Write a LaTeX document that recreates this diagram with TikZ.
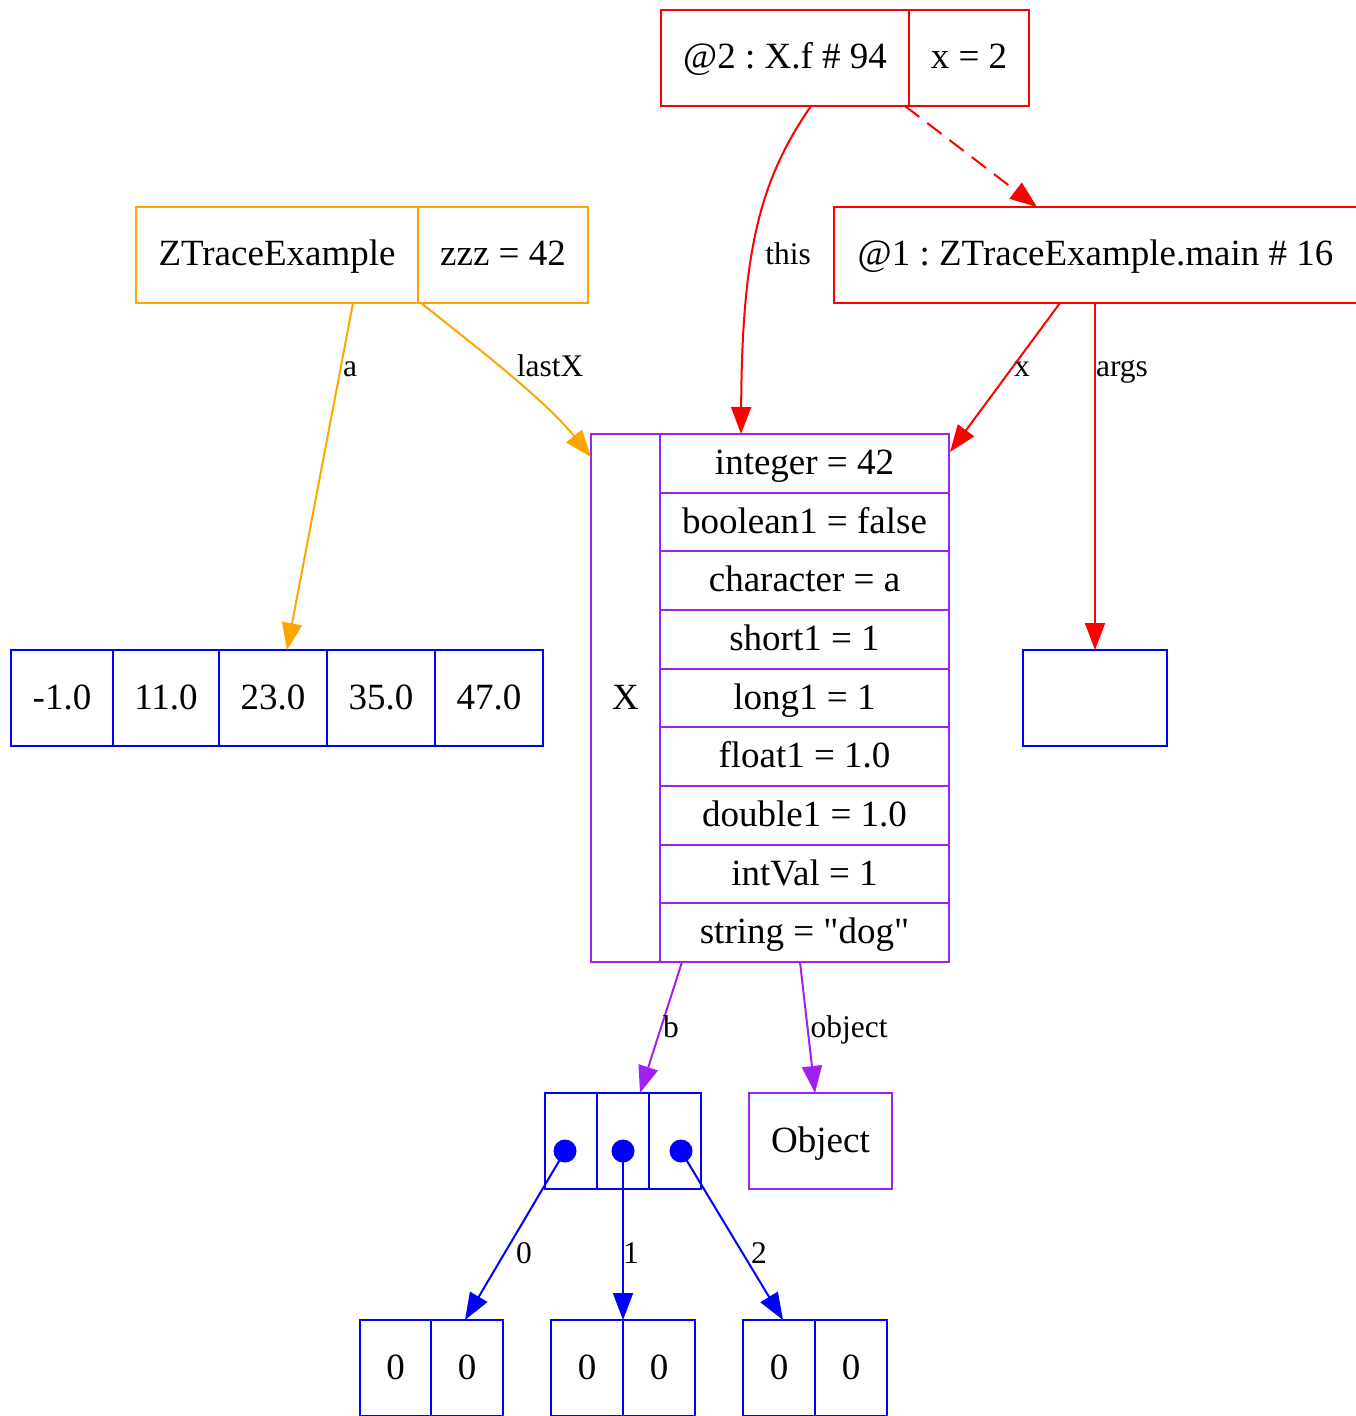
\documentclass[tikz,border=0pt]{standalone}
\usepackage{fontspec}
\setmainfont{Liberation Serif}
\usetikzlibrary{arrows.meta,calc}
\definecolor{gvred}{RGB}{255,0,0}
\definecolor{gvorange}{RGB}{255,165,0}
\definecolor{gvpurple}{RGB}{160,32,240}
\definecolor{gvblue}{RGB}{0,0,255}
\frenchspacing
\begin{document}
\begin{tikzpicture}[x=0.5pt,y=-0.5pt,
  cell/.style={draw, line width=1pt, inner sep=0pt, outer sep=0pt, minimum height=48pt, text height=14pt, text depth=3pt, font=\fontsize{18.5}{22}\selectfont\frenchspacing, text=black},
  redc/.style={cell, draw=gvred},
  orac/.style={cell, draw=gvorange},
  purc/.style={cell, draw=gvpurple},
  bluc/.style={cell, draw=gvblue},
  edge/.style={line width=1pt, -{Triangle[length=13.5pt,width=10pt]}},
  lbl/.style={font=\fontsize{15.75}{18}\selectfont, text=black, inner sep=0pt, anchor=base},
  dot/.style={circle, fill=gvblue, inner sep=0pt, minimum size=11.5pt}
]
\useasboundingbox (0,0) rectangle (1355,1416);
% frame @2
\node[redc, minimum width=124pt] (f2a) at (785,58) {@2 : X.f \# 94};
\node[redc, minimum width=60pt] (f2b) at (969,58) {x = 2};
% ZTraceExample
\node[orac, minimum width=141pt] (zt1) at (277,255) {ZTraceExample};
\node[orac, minimum width=85pt] (zt2) at (503,255) {zzz = 42};
% frame @1
\node[redc, minimum width=261.5pt] (f1) at (1095.5,255) {@1 : ZTraceExample.main \# 16};
% X object
\node[purc, minimum width=34.5pt, minimum height=264pt] (Xl) at (625.5,698) {X};
\foreach \i/\t in {1/{integer = 42},2/{boolean1 = false},3/{character = a},4/{short1 = 1},5/{long1 = 1},6/{float1 = 1.0},7/{double1 = 1.0},8/{intVal = 1},9/{string = \textquotedbl dog\textquotedbl}}
  \node[purc, minimum width=144.5pt, minimum height=29.333pt] (Xf\i) at (804.5,{434+58.667*(\i-0.5)}) {\t};
% array a
\node[bluc, minimum width=51pt] (a1) at (62,698) {-1.0};
\node[bluc, minimum width=53pt] (a2) at (166,698) {11.0};
\node[bluc, minimum width=54pt] (a3) at (273,698) {23.0};
\node[bluc, minimum width=54pt] (a4) at (381,698) {35.0};
\node[bluc, minimum width=54pt] (a5) at (489,698) {47.0};
% args
\node[bluc, minimum width=72pt] (args) at (1095,698) {};
% array b
\node[bluc, minimum width=26pt] (b1) at (571,1141) {};
\node[bluc, minimum width=26pt] (b2) at (623,1141) {};
\node[bluc, minimum width=26pt] (b3) at (675,1141) {};
\node[dot] (d0) at (565,1151) {};
\node[dot] (d1) at (623,1151) {};
\node[dot] (d2) at (681,1151) {};
% Object
\node[purc, minimum width=71.5pt] (obj) at (820.5,1141) {Object};
% bottom arrays
\node[bluc, minimum width=35.5pt] (z0a) at (395.5,1368) {0};
\node[bluc, minimum width=36pt] (z0b) at (467,1368) {0};
\node[bluc, minimum width=36pt] (z1a) at (587,1368) {0};
\node[bluc, minimum width=36pt] (z1b) at (659,1368) {0};
\node[bluc, minimum width=36pt] (z2a) at (779,1368) {0};
\node[bluc, minimum width=36pt] (z2b) at (851,1368) {0};
% edges
\draw[edge, gvred] ($(f2a.south)+(26,0)$) .. controls (760,180) and (742,250) .. ($(Xf1.north)+(-63.5,0)$)
  node[lbl, at={(788,265)}] {this};
\draw[edge, gvred, dash pattern=on 9pt off 5pt] ($(f2a.south east)+(-4,0)$) -- ($(f1.north west)+(203,0)$);
\draw[edge, gvorange] ($(zt1.south)+(76,0)$) -- ($(a3.north)+(14,0)$)
  node[lbl, at={(350,377)}] {a};
\draw[edge, gvorange] ($(zt2.south west)+(3,0)$) .. controls (480,350) and (545,400) .. ($(Xl.north west)+(0,23)$)
  node[lbl, at={(550,377)}] {lastX};
\draw[edge, gvred] ($(f1.south west)+(226,0)$) -- ($(Xf1.north east)+(1,18)$)
  node[lbl, at={(1022,377)}] {x};
\draw[edge, gvred] (f1.south -| args.north) -- (args.north)
  node[lbl, at={(1122,377)}] {args};
\draw[edge, gvpurple] ($(Xl.south east)+(22,0)$) -- ($(b2.north)+(17,0)$)
  node[lbl, at={(671,1037)}] {b};
\draw[edge, gvpurple] ($(Xf9.south)+(-4.5,0)$) -- ($(obj.north)+(-5.5,0)$)
  node[lbl, at={(849,1037)}] {object};
\draw[edge, gvblue] (d0.center) -- ($(z0b.north)+(-2,0)$)
  node[lbl, at={(524,1263)}] {0};
\draw[edge, gvblue] (d1.center) -- (z1a.north east)
  node[lbl, at={(631,1263)}] {1};
\draw[edge, gvblue] (d2.center) -- ($(z2a.north)+(4,0)$)
  node[lbl, at={(759,1263)}] {2};
\end{tikzpicture}
\end{document}
